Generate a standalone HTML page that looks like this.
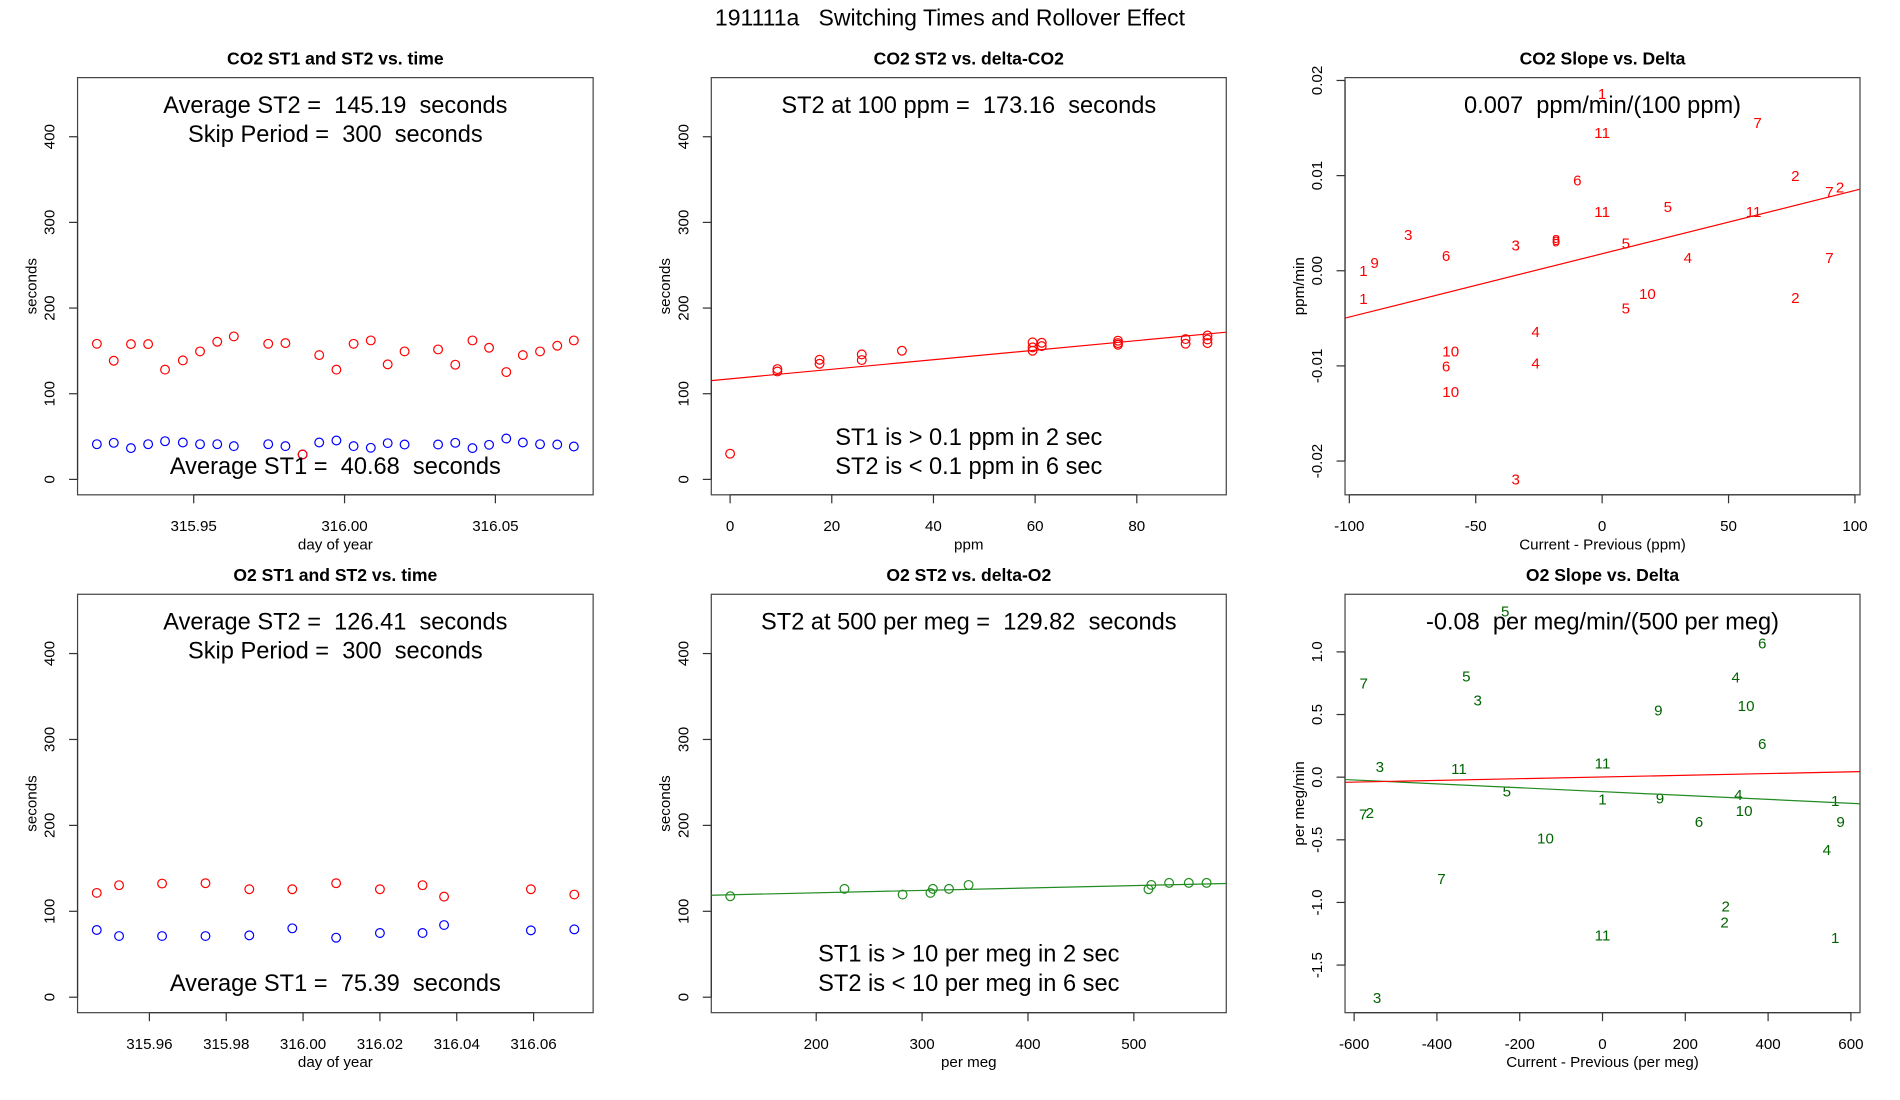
<!DOCTYPE html>
<html><head><meta charset="utf-8"><style>
html,body{margin:0;padding:0;background:#fff;}
svg{display:block;font-family:"Liberation Sans",Arial,sans-serif;}
text{white-space:pre;}
</style></head><body>
<svg id="fig" width="1900" height="1100" viewBox="0 0 1568 907" preserveAspectRatio="none" xmlns="http://www.w3.org/2000/svg">
<rect x="0" y="0" width="1568" height="907" fill="#fff"/>
<text x="784" y="21" text-anchor="middle" font-size="19" xml:space="preserve">191111a   Switching Times and Rollover Effect</text>
</svg>
<script>
// ---- Panel 1: CO2 ST1/ST2 vs time ----
const co2Days = [315.9179,315.9235,315.9292,315.9349,315.9405,315.9464,315.9521,315.9578,315.9633,315.9747,315.9804,315.9861,315.9916,315.9973,316.0030,316.0087,316.0143,316.0199,316.0310,316.0367,316.0424,316.0479,316.0536,316.0591,316.0648,316.0705,316.0760];
const co2ST2 = [158.3,138.5,157.9,157.9,128.1,138.9,149.4,160.7,166.9,158.3,159.1,29.1,145.1,128.1,158.3,162.2,134.3,149.4,151.7,133.9,162.2,153.7,125.3,145.1,149.4,156.0,162.2];
const co2ST1 = [41.1,42.7,36.5,41.1,44.6,43.1,41.1,41.1,38.8,41.1,38.8,29.1,43.1,45.4,38.8,36.9,42.3,40.7,40.7,42.7,36.5,40.4,47.7,43.1,41.1,40.7,38.4];
const co2TimeTicks = [315.95,316.00,316.05];
const co2TimeTickLabels = ["315.95","316.00","316.05"];
const secTicks = [0,100,200,300,400];
const secTickLabels = ["0","100","200","300","400"];
// ---- Panel 4: O2 ST1/ST2 vs time ----
const o2Days = [315.9463,315.9521,315.9633,315.9746,315.9860,315.9972,316.0086,316.0200,316.0311,316.0367,316.0593,316.0706];
const o2ST2 = [121.4,130.4,132.3,132.7,125.7,125.7,132.7,125.7,130.4,117.1,125.7,119.5];
const o2ST1 = [78.2,71.2,71.2,71.2,72.0,80.2,69.3,74.7,74.7,84.0,77.8,79.0];
const o2TimeTicks = [315.96,315.98,316.00,316.02,316.04,316.06];
const o2TimeTickLabels = ["315.96","315.98","316.00","316.02","316.04","316.06"];
// ---- Panel 2: CO2 ST2 vs delta ----
const co2Delta = [0,9.3,9.3,17.6,17.6,25.9,25.9,33.8,59.5,59.5,59.5,61.3,61.3,76.3,76.3,76.3,89.6,89.6,93.9,93.9,93.9];
const co2DeltaST2 = [30,128.8,126,139.7,135,145.9,139.3,150.2,160,154.1,150.2,159.5,155.6,161.9,159.1,157.2,163.8,158.4,168,163.4,159.1];
const co2FitCoef = [117.4,0.5576];
const ppmTicks = [0,20,40,60,80];
const ppmTickLabels = ["0","20","40","60","80"];
// ---- Panel 5: O2 ST2 vs delta ----
const o2Delta = [118.8,226.7,281.6,307.9,310.2,325.4,343.9,513.8,516.5,533.3,551.9,568.7];
const o2DeltaST2 = [117.5,126.1,119.5,121.4,126.1,126.1,130.7,125.7,130.7,133.1,133.1,133.1];
const o2FitCoef = [115.9,0.028];
const permegTicks = [200,300,400,500];
const permegTickLabels = ["200","300","400","500"];
// ---- Panel 3: CO2 slope vs delta ----
const co2SlopeLabels = ["1","7","11","2","6","7","2","11","5","11","3","3","8","9","5","6","4","7","9","1","1","10","2","5","4","10","6","4","10","3"];
const co2SlopeX = [0,61.5,0,76.4,-9.8,89.9,94.1,0,26,59.9,-76.7,-34.2,-18.2,-18.2,9.4,-61.7,33.9,89.9,-90,-94.4,-94.4,17.9,76.4,9.4,-26.3,-59.9,-61.7,-26.3,-59.9,-34.2];
const co2SlopeY = [0.01865,0.01557,0.01452,0.0100,0.00955,0.0083,0.0088,0.0062,0.00675,0.0062,0.0038,0.0027,0.0033,0.0031,0.0029,0.0016,0.0014,0.0014,0.00087,0.0,-0.0029,-0.0024,-0.0028,-0.0039,-0.0064,-0.00845,-0.0100,-0.0097,-0.0127,-0.0219];
const co2SlopeFit = [0.00179,0.0000665];
const co2DTicks = [-100,-50,0,50,100];
const co2DTickLabels = ["-100","-50","0","50","100"];
const co2STicks = [-0.02,-0.01,0,0.01,0.02];
const co2STickLabels = ["-0.02","-0.01","0.00","0.01","0.02"];
// ---- Panel 6: O2 slope vs delta ----
const o2SlopeLabels = ["5","6","7","5","4","3","9","10","6","3","11","11","5","1","9","4","1","7","2","10","6","9","10","4","7","2","2","11","1","3"];
const o2SlopeX = [-235,385.6,-577,-329,321.8,-301.5,135,346.8,385.6,-538,-346.7,0,-231,0,138.7,328,562,-578,-562,342,233,575,-137.8,542,-389,297.7,295,0,562,-544.6];
const o2SlopeY = [1.328,1.072,0.75,0.808,0.80,0.615,0.537,0.571,0.267,0.083,0.069,0.113,-0.110,-0.174,-0.165,-0.138,-0.185,-0.295,-0.281,-0.267,-0.353,-0.353,-0.488,-0.579,-0.808,-1.028,-1.158,-1.26,-1.28,-1.761];
const o2SlopeFitGreen = [-0.1155,-0.000155];
const o2SlopeFitRed = [0.0015,0.0000683];
const o2DTicks = [-600,-400,-200,0,200,400,600];
const o2DTickLabels = ["-600","-400","-200","0","200","400","600"];
const o2STicks = [-1.5,-1,-0.5,0,0.5,1];
const o2STickLabels = ["-1.5","-1.0","-0.5","0.0","0.5","1.0"];

const NS = "http://www.w3.org/2000/svg";
const svg = document.getElementById('fig');
function mk(tag, attrs, parent, txt){
  const e = document.createElementNS(NS, tag);
  for (const k in attrs) e.setAttribute(k, attrs[k]);
  if (txt !== undefined) e.textContent = txt;
  (parent||svg).appendChild(e);
  return e;
}
function panel(o){
  const g = mk('g', {});
  
  
  const L=o.box[0], R=o.box[1], T=o.box[2], B=o.box[3];
  const sx = v => L + (v - o.xd[0])/(o.xd[1]-o.xd[0])*(R-L);
  const sy = v => B - (v - o.yd[0])/(o.yd[1]-o.yd[0])*(B-T);
  const t = mk('text', {x:(L+R)/2, y:T-11, 'text-anchor':'middle','font-size':14.5,'font-weight':'bold'}, g, o.title);
  
  
  const box = mk('rect', {x:L,y:T,width:R-L,height:B-T,fill:'none',stroke:'#444','stroke-width':1}, g);
  
  
  const xa = mk('g', {}, g);
  
  
  const xt = o.xticks;
  mk('line', {x1:sx(xt[0]),x2:sx(xt[xt.length-1]),y1:B,y2:B,stroke:'#333'}, xa);
  xt.forEach((v,i)=>{
    mk('line', {x1:sx(v),x2:sx(v),y1:B,y2:B+7,stroke:'#333'}, xa);
    const tl = mk('text', {x:sx(v),y:B+30,'text-anchor':'middle','font-size':12.5}, xa, o.xlabels[i]);
    
    
  });
  const xl = mk('text', {x:(L+R)/2,y:B+45,'text-anchor':'middle','font-size':12.5}, g, o.xtitle);
  
  
  const ya = mk('g', {}, g);
  
  
  const yt = o.yticks;
  mk('line', {x1:L,x2:L,y1:sy(yt[0]),y2:sy(yt[yt.length-1]),stroke:'#333'}, ya);
  yt.forEach((v,i)=>{
    mk('line', {x1:L-7,x2:L,y1:sy(v),y2:sy(v),stroke:'#333'}, ya);
    const tl = mk('text', {x:0,y:0,'text-anchor':'middle','font-size':12.5,transform:`translate(${L-19},${sy(v)}) rotate(-90)`}, ya, o.ylabels[i]);
    
    
  });
  const yl = mk('text', {x:0,y:0,'text-anchor':'middle','font-size':12.5,transform:`translate(${L-34},${(T+B)/2}) rotate(-90)`}, g, o.ytitle);
  
  
  const clipId = 'c'+o.name;
  const cp = mk('clipPath', {id:clipId}, g);
  mk('rect', {x:L,y:T,width:R-L,height:B-T}, cp);
  const pg = mk('g', {'clip-path':`url(#${clipId})`}, g);
  return {g, pg, sx, sy, L, R, T, B};
}
function points(p, xs, ys, color, name){
  xs.forEach((x,i)=>{
    const c = mk('circle', {cx:p.sx(x), cy:p.sy(ys[i]), r:3.6, fill:'none', stroke:color, 'stroke-width':1}, p.pg);
    
    
  });
}
function labels(p, xs, ys, labs, color, name){
  xs.forEach((x,i)=>{
    const t = mk('text', {x:p.sx(x), y:p.sy(ys[i])+4.5, 'text-anchor':'middle','font-size':12.5, fill:color}, p.pg, labs[i]);
    
    
  });
}
function fitLine(p, xd, coef, color, name){
  const l = mk('line', {x1:p.sx(xd[0]), y1:p.sy(coef[0]+coef[1]*xd[0]), x2:p.sx(xd[1]), y2:p.sy(coef[0]+coef[1]*xd[1]), stroke:color, 'stroke-width':1}, p.pg);
  
  
}
function note(p, y, txt, name){
  const t = mk('text', {x:(p.L+p.R)/2, y:y, 'text-anchor':'middle','font-size':19.5,'xml:space':'preserve'}, p.g, txt);
  
  
}
const C1=[64,489.5], C2=[587,1012], C3=[1110,1535];
const R1=[64,408], R2=[490,835];
const secD=[-18,469];

const xd1=[315.9115,316.0824];
let p = panel({name:'co2-time-panel', box:[...C1,...R1], xd:xd1, yd:secD, title:'CO2 ST1 and ST2 vs. time', xticks:co2TimeTicks, xlabels:co2TimeTickLabels, xtitle:'day of year', yticks:secTicks, ylabels:secTickLabels, ytitle:'seconds'});
points(p, co2Days, co2ST1, '#0000ff', 'st1-point');
points(p, co2Days, co2ST2, '#ff0000', 'st2-point');
note(p, 93, 'Average ST2 =  145.19  seconds', 'avg-st2-note');
note(p, 117, 'Skip Period =  300  seconds', 'skip-period-note');
note(p, 391, 'Average ST1 =  40.68  seconds', 'avg-st1-note');

const xd2=[-3.7,97.6];
p = panel({name:'co2-delta-panel', box:[...C2,...R1], xd:xd2, yd:secD, title:'CO2 ST2 vs. delta-CO2', xticks:ppmTicks, xlabels:ppmTickLabels, xtitle:'ppm', yticks:secTicks, ylabels:secTickLabels, ytitle:'seconds'});
points(p, co2Delta, co2DeltaST2, '#ff0000', 'st2-point');
fitLine(p, xd2, co2FitCoef, '#ff0000', 'fit-line');
note(p, 93, 'ST2 at 100 ppm =  173.16  seconds', 'st2-at-100-note');
note(p, 367, 'ST1 is > 0.1 ppm in 2 sec', 'st1-criterion-note');
note(p, 391, 'ST2 is < 0.1 ppm in 6 sec', 'st2-criterion-note');

const xd3=[-101.7,102.0];
p = panel({name:'co2-slope-panel', box:[...C3,...R1], xd:xd3, yd:[-0.02355,0.0203], title:'CO2 Slope vs. Delta', xticks:co2DTicks, xlabels:co2DTickLabels, xtitle:'Current - Previous (ppm)', yticks:co2STicks, ylabels:co2STickLabels, ytitle:'ppm/min'});
labels(p, co2SlopeX, co2SlopeY, co2SlopeLabels, '#ff0000', 'slope-label');
fitLine(p, xd3, co2SlopeFit, '#ff0000', 'fit-line');
note(p, 93, '0.007  ppm/min/(100 ppm)', 'slope-note');

const xd4=[315.9413,316.0755];
p = panel({name:'o2-time-panel', box:[...C1,...R2], xd:xd4, yd:secD, title:'O2 ST1 and ST2 vs. time', xticks:o2TimeTicks, xlabels:o2TimeTickLabels, xtitle:'day of year', yticks:secTicks, ylabels:secTickLabels, ytitle:'seconds'});
points(p, o2Days, o2ST1, '#0000ff', 'st1-point');
points(p, o2Days, o2ST2, '#ff0000', 'st2-point');
note(p, 519, 'Average ST2 =  126.41  seconds', 'avg-st2-note');
note(p, 543, 'Skip Period =  300  seconds', 'skip-period-note');
note(p, 817, 'Average ST1 =  75.39  seconds', 'avg-st1-note');

const xd5=[100.9,587.3];
p = panel({name:'o2-delta-panel', box:[...C2,...R2], xd:xd5, yd:secD, title:'O2 ST2 vs. delta-O2', xticks:permegTicks, xlabels:permegTickLabels, xtitle:'per meg', yticks:secTicks, ylabels:secTickLabels, ytitle:'seconds'});
points(p, o2Delta, o2DeltaST2, '#228b22', 'st2-point');
fitLine(p, xd5, o2FitCoef, '#228b22', 'fit-line');
note(p, 519, 'ST2 at 500 per meg =  129.82  seconds', 'st2-at-500-note');
note(p, 793, 'ST1 is > 10 per meg in 2 sec', 'st1-criterion-note');
note(p, 817, 'ST2 is < 10 per meg in 6 sec', 'st2-criterion-note');

const xd6=[-622,622];
p = panel({name:'o2-slope-panel', box:[...C3,...R2], xd:xd6, yd:[-1.88,1.46], title:'O2 Slope vs. Delta', xticks:o2DTicks, xlabels:o2DTickLabels, xtitle:'Current - Previous (per meg)', yticks:o2STicks, ylabels:o2STickLabels, ytitle:'per meg/min'});
labels(p, o2SlopeX, o2SlopeY, o2SlopeLabels, '#006400', 'slope-label');
fitLine(p, xd6, o2SlopeFitGreen, '#228b22', 'fit-line-green');
fitLine(p, xd6, o2SlopeFitRed, '#ff0000', 'fit-line-red');
note(p, 519, '-0.08  per meg/min/(500 per meg)', 'slope-note');
</script>
</body></html>
